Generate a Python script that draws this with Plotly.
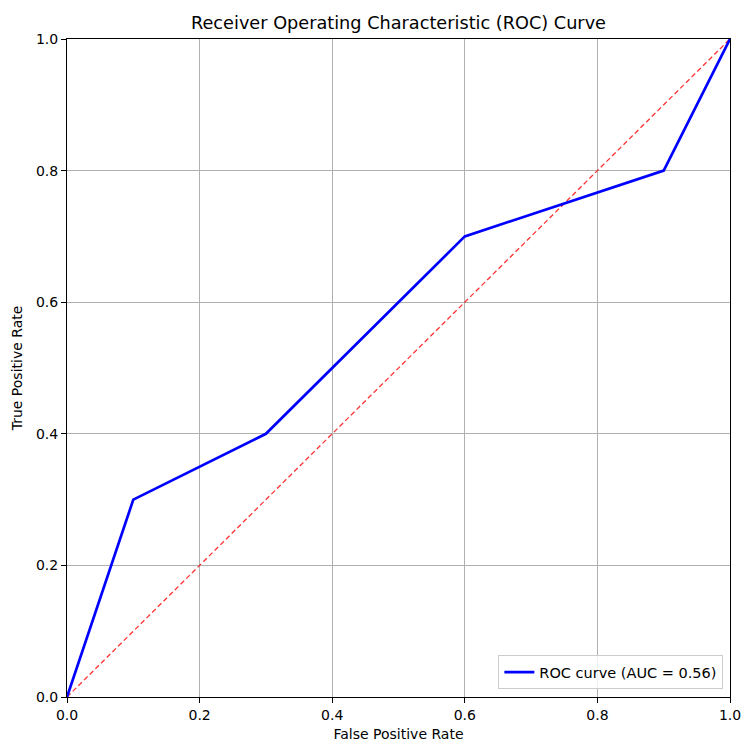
import plotly.graph_objects as go

fpr = [0.0, 0.1, 0.3, 0.6, 0.9, 1.0]
tpr = [0.0, 0.3, 0.4, 0.7, 0.8, 1.0]
diag_x = [0.0, 1.0]
diag_y = [0.0, 1.0]
tick_vals = [0.0, 0.2, 0.4, 0.6, 0.8, 1.0]
tick_text = ["0.0", "0.2", "0.4", "0.6", "0.8", "1.0"]
auc = 0.56

fig = go.Figure()
fig.add_trace(go.Scatter(x=diag_x, y=diag_y, mode="lines",
                         line=dict(color="red", width=1.3, dash="5px,3px"),
                         opacity=0.8, showlegend=False, hoverinfo="skip"))
fig.add_trace(go.Scatter(x=fpr, y=tpr, mode="lines",
                         line=dict(color="blue", width=2.7),
                         name=f"ROC curve (AUC = {auc:.2f})"))

axis_common = dict(range=[0, 1], tickvals=tick_vals, ticktext=tick_text,
                   showgrid=True, gridcolor="#b0b0b0", gridwidth=1,
                   zeroline=False, showline=True, linecolor="black", linewidth=1,
                   mirror=True, ticks="outside", ticklen=5, tickcolor="black",
                   automargin=False,
                   tickfont=dict(size=14, color="black"))

fig.update_layout(
    width=742, height=742,
    margin=dict(l=67, r=12, t=39, b=45),
    paper_bgcolor="white", plot_bgcolor="white",
    font=dict(family="DejaVu Sans", color="black"),
    title=dict(text="Receiver Operating Characteristic (ROC) Curve",
               x=(67 + 663 / 2) / 742, xanchor="center", y=1 - 23 / 742, yanchor="middle",
               font=dict(size=17.7)),
    xaxis=dict(axis_common, title=dict(text="False Positive Rate", font=dict(size=14), standoff=7)),
    yaxis=dict(axis_common, title=dict(text="True Positive Rate", font=dict(size=14), standoff=10)),
    legend=dict(x=0.99, y=0.012, xanchor="right", yanchor="bottom",
                bgcolor="rgba(255,255,255,0.8)", bordercolor="#cccccc", borderwidth=1,
                font=dict(size=14.5)),
)

fig.write_html("out.html", config={"displayModeBar": False},
               post_script="document.body.style.margin='0';document.body.style.overflow='hidden';")
